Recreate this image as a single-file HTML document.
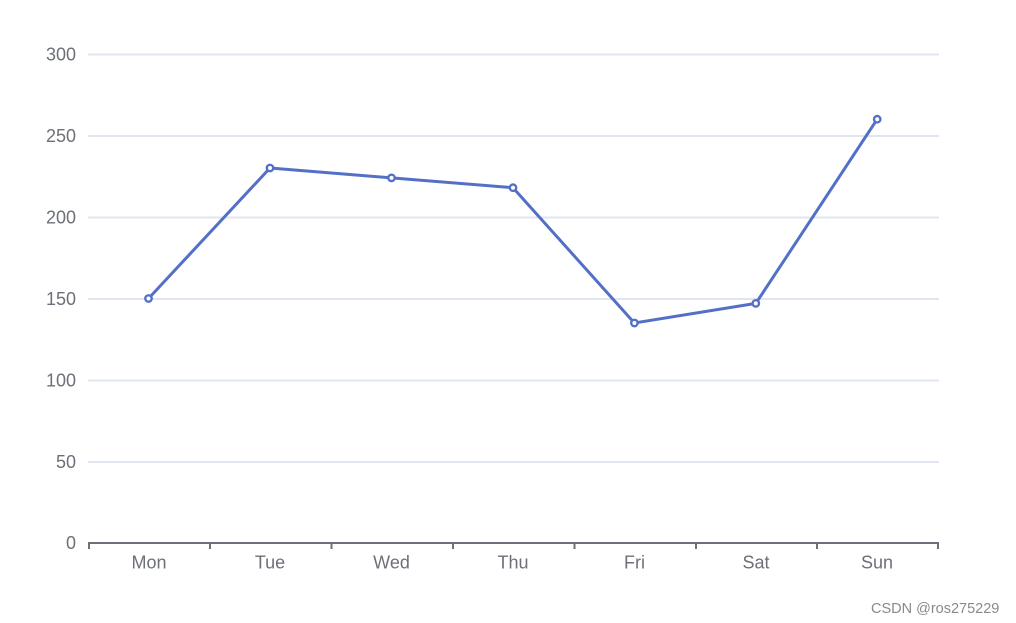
<!DOCTYPE html>
<html>
<head>
<meta charset="utf-8">
<style>
  html, body { margin:0; padding:0; background:#fff; }
  svg { display:block; }
  text { font-family: "Liberation Sans", "Noto Sans CJK SC", sans-serif; }
</style>
</head>
<body>
<svg width="1016" height="623" viewBox="0 0 1016 623" xmlns="http://www.w3.org/2000/svg">
  <rect width="1016" height="623" fill="#ffffff"/>
  <!-- grid lines -->
  <g stroke="#E0E6F1" stroke-width="2">
    <line x1="88" y1="54.5" x2="939" y2="54.5"/>
    <line x1="88" y1="136" x2="939" y2="136"/>
    <line x1="88" y1="217.5" x2="939" y2="217.5"/>
    <line x1="88" y1="299" x2="939" y2="299"/>
    <line x1="88" y1="380.5" x2="939" y2="380.5"/>
    <line x1="88" y1="462" x2="939" y2="462"/>
  </g>
  <!-- x axis -->
  <g stroke="#6E7079" stroke-width="2">
    <line x1="88" y1="543" x2="939" y2="543"/>
    <line x1="89" y1="543" x2="89" y2="549"/>
    <line x1="210" y1="543" x2="210" y2="549"/>
    <line x1="331.5" y1="543" x2="331.5" y2="549"/>
    <line x1="453" y1="543" x2="453" y2="549"/>
    <line x1="574.5" y1="543" x2="574.5" y2="549"/>
    <line x1="696" y1="543" x2="696" y2="549"/>
    <line x1="817" y1="543" x2="817" y2="549"/>
    <line x1="938" y1="543" x2="938" y2="549"/>
  </g>
  <!-- y labels -->
  <g fill="#6E7079" font-size="18" text-anchor="end">
    <text x="76" y="60.5">300</text>
    <text x="76" y="142">250</text>
    <text x="76" y="223.5">200</text>
    <text x="76" y="305">150</text>
    <text x="76" y="386.5">100</text>
    <text x="76" y="468">50</text>
    <text x="76" y="549">0</text>
  </g>
  <!-- x labels -->
  <g fill="#6E7079" font-size="18" text-anchor="middle">
    <text x="149" y="568.5">Mon</text>
    <text x="270" y="568.5">Tue</text>
    <text x="391.5" y="568.5">Wed</text>
    <text x="513" y="568.5">Thu</text>
    <text x="634.5" y="568.5">Fri</text>
    <text x="756" y="568.5">Sat</text>
    <text x="877" y="568.5">Sun</text>
  </g>
  <!-- series -->
  <polyline fill="none" stroke="#5470C6" stroke-width="3" stroke-linejoin="round" stroke-linecap="round"
    points="148.5,298.5 270,168 391.5,177.9 513,187.7 634.4,323 755.8,303.4 877.2,119.2"/>
  <g fill="#ffffff" stroke="#5470C6" stroke-width="2.4">
    <circle cx="148.5" cy="298.5" r="3.2"/>
    <circle cx="270" cy="168" r="3.2"/>
    <circle cx="391.5" cy="177.9" r="3.2"/>
    <circle cx="513" cy="187.7" r="3.2"/>
    <circle cx="634.4" cy="323" r="3.2"/>
    <circle cx="755.8" cy="303.4" r="3.2"/>
    <circle cx="877.2" cy="119.2" r="3.2"/>
  </g>
  <!-- watermark -->
  <text x="871" y="613" font-size="14.5" fill="#8a8a8a">CSDN @ros275229</text>
</svg>
</body>
</html>
